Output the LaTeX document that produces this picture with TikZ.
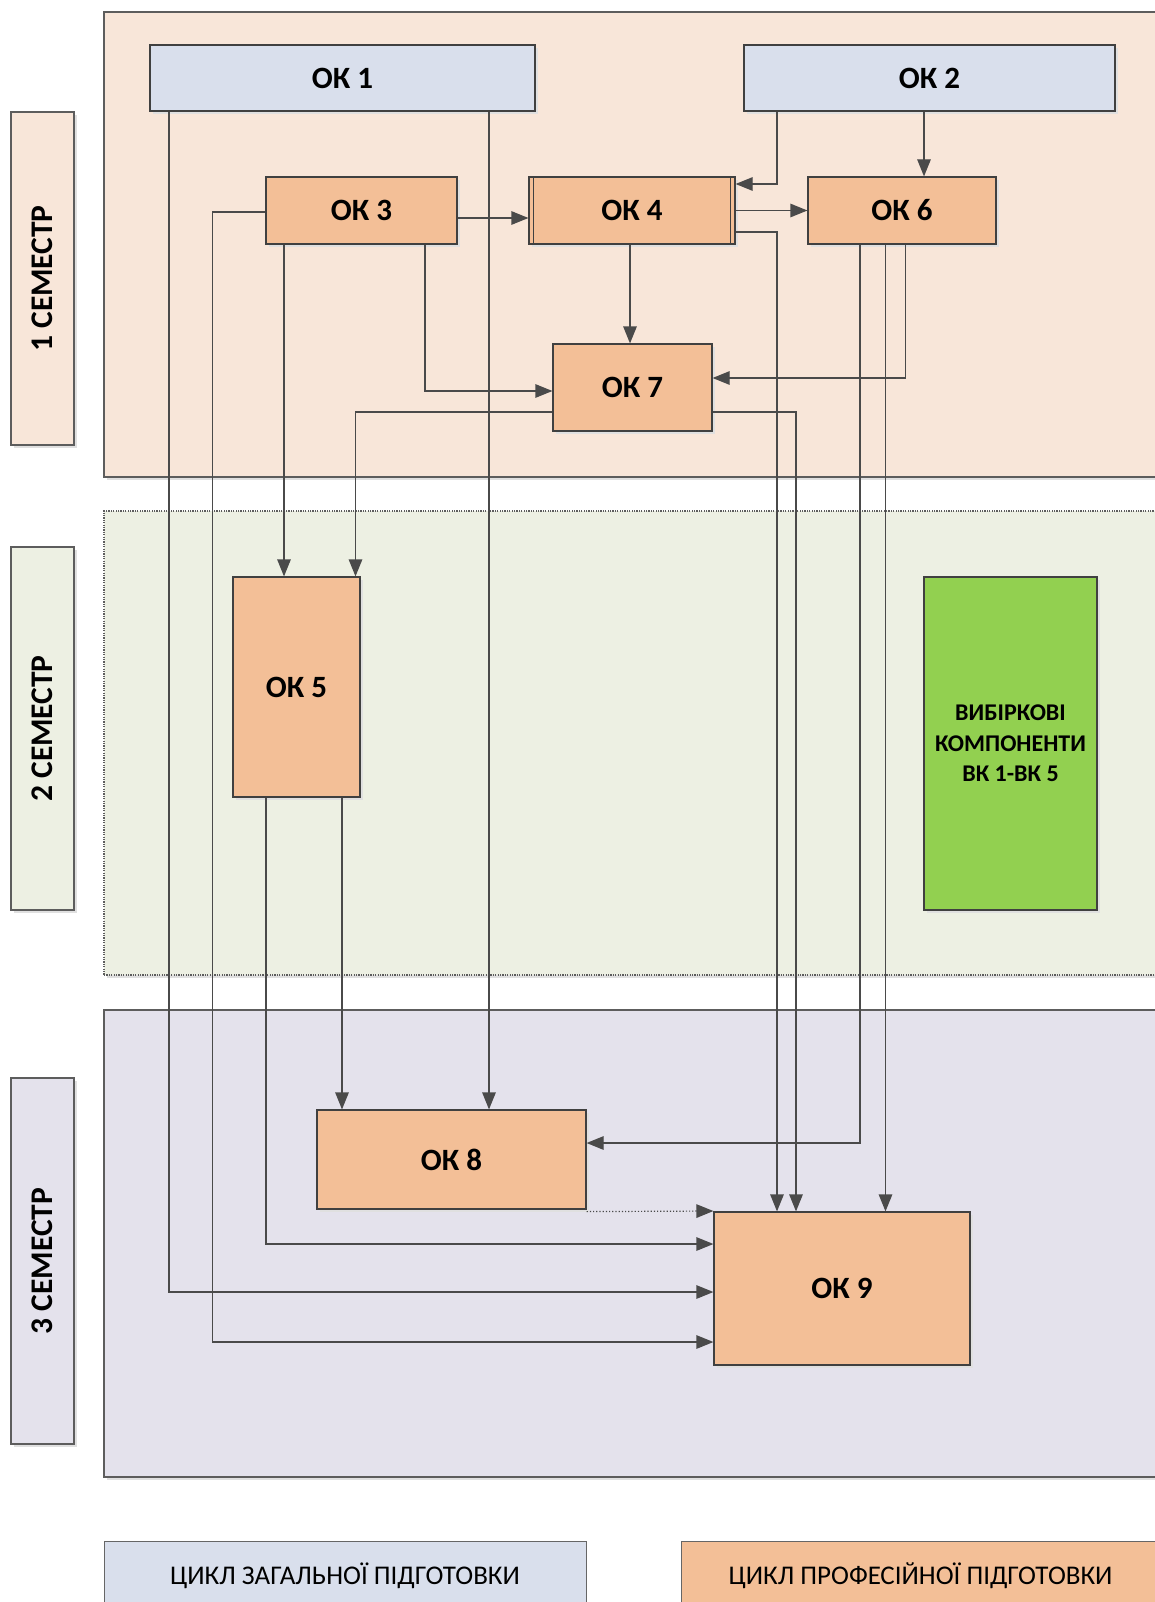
\documentclass[tikz,border=0pt]{standalone}
\usepackage{fontspec}
\setmainfont{Carlito}
\usetikzlibrary{arrows.meta,shadows}
\definecolor{semA}{HTML}{F8E6D9}
\definecolor{semB}{HTML}{EDF0E3}
\definecolor{semC}{HTML}{E4E2EC}
\definecolor{genblue}{HTML}{D9DFEC}
\definecolor{profor}{HTML}{F3BF97}
\definecolor{selgreen}{HTML}{92D050}
\definecolor{frame}{HTML}{404040}
\definecolor{linkgray}{HTML}{4A4A4A}
\begin{document}
\begin{tikzpicture}[x=1pt, y=-1pt, >={Triangle[length=17pt,width=13.5pt]},
      shd/.style={drop shadow={shadow xshift=3pt, shadow yshift=-3pt, fill=black!12, opacity=1}},
      box/.style={draw=frame, line width=1.2pt, align=center, inner sep=0pt, shd,
        font=\bfseries\fontsize{31}{37}\selectfont},
      gen/.style={box, fill=genblue},
      prof/.style={box, fill=profor},
      sel/.style={box, fill=selgreen, font=\bfseries\fontsize{24}{30.5}\selectfont},
      band/.style={draw=frame!85, line width=1.1pt, inner sep=0pt, shd},
      semlab/.style={band, label={[rotate=90, font=\bfseries\fontsize{31.5}{37}\selectfont]center:#1}},
      key/.style={draw=frame!80, line width=1pt, inner sep=0pt, font=\fontsize{27}{32}\selectfont},
      link/.style={->, draw=linkgray, line width=1.2pt}]
    \useasboundingbox (0,0) rectangle (1155,1602);
    \clip (0,0) rectangle (1155,1602);
    \node[band, fill=semA, minimum width=1056pt, minimum height=465pt] (sem1) at (632,244.5) {};
    \node[band, fill=semB, dash pattern=on 1.2pt off 1.2pt, minimum width=1056pt, minimum height=464pt] (sem2) at (632,743) {};
    \node[band, fill=semC, minimum width=1056pt, minimum height=467pt] (sem3) at (632,1243.5) {};
    \node[semlab={1 СЕМЕСТР}, fill=semA, minimum width=63pt, minimum height=333pt] (lab1) at (42.5,278.5) {};
    \node[semlab={2 СЕМЕСТР}, fill=semB, minimum width=63pt, minimum height=363pt] (lab2) at (42.5,728.5) {};
    \node[semlab={3 СЕМЕСТР}, fill=semC, minimum width=63pt, minimum height=366pt] (lab3) at (42.5,1261) {};
    \node[gen, minimum width=385pt, minimum height=66pt] (ok1) at (342.5,78) {ОК 1};
    \node[gen, minimum width=371pt, minimum height=66pt] (ok2) at (929.5,78) {ОК 2};
    \node[prof, minimum width=191pt, minimum height=67pt] (ok3) at (361.5,210.5) {ОК 3};
    \node[prof, minimum width=206pt, minimum height=67pt] (ok4) at (632,210.5) {ОК 4};
    \node[prof, minimum width=188pt, minimum height=67pt] (ok6) at (902,210.5) {ОК 6};
    \node[prof, minimum width=159pt, minimum height=87pt] (ok7) at (632.5,387.5) {ОК 7};
    \node[prof, minimum width=127pt, minimum height=220pt] (ok5) at (296.5,687) {ОК 5};
    \node[sel, minimum width=173pt, minimum height=333pt] (vk) at (1010.5,743.5) {ВИБІРКОВІ\\КОМПОНЕНТИ\\ВК 1-ВК 5};
    \node[prof, minimum width=269pt, minimum height=99pt] (ok8) at (451.5,1159.5) {ОК 8};
    \node[prof, minimum width=256pt, minimum height=153pt] (ok9) at (842,1288.5) {ОК 9};
    \node[key, fill=genblue, minimum width=482pt, minimum height=69pt] (leg1) at (345,1575.5) {ЦИКЛ ЗАГАЛЬНОЇ ПІДГОТОВКИ};
    \node[key, fill=profor, minimum width=479pt, minimum height=69pt] (leg2) at (920.5,1575.5) {ЦИКЛ ПРОФЕСІЙНОЇ ПІДГОТОВКИ};
    \draw[draw=frame, line width=1.2pt] ([xshift=5pt]ok4.north west) -- ([xshift=5pt]ok4.south west);
    \draw[draw=frame, line width=1.2pt] ([xshift=-5pt]ok4.north east) -- ([xshift=-5pt]ok4.south east);
    \draw[link] ([xshift=-173.5pt]ok1.south) |- ([yshift=-3.5pt]ok9.west);
    \draw[link] ([xshift=146.5pt]ok1.south) -- ([xshift=37.5pt]ok8.north);
    \draw[link] ([xshift=-152.5pt]ok2.south) |- ([yshift=26.5pt]ok4.east);
    \draw[link] ([xshift=-5.5pt]ok2.south) -- ([xshift=22pt]ok6.north);
    \draw[link] ([yshift=-7.5pt]ok3.east) -- ([yshift=-7.5pt]ok4.west);
    \draw[link] ([yshift=-1.5pt]ok3.west) -- ++(-53,0) |- ([yshift=-53.5pt]ok9.west);
    \draw[link] ([xshift=-77.5pt]ok3.south) -- ([xshift=-12.5pt]ok5.north);
    \draw[link] ([xshift=63.5pt]ok3.south) |- ([yshift=-3.5pt]ok7.west);
    \draw[link] (ok4.east) -- (ok6.west);
    \draw[link] ([yshift=-21.5pt]ok4.east) -| ([xshift=-65pt]ok9.north);
    \draw[link] ([xshift=-2pt]ok4.south) -- ([xshift=-2.5pt]ok7.north);
    \draw[link] ([xshift=-42pt]ok6.south) |- ([yshift=16.5pt]ok8.east);
    \draw[link] ([xshift=-16.5pt]ok6.south) -- ([xshift=43.5pt]ok9.north);
    \draw[link] ([xshift=3.5pt]ok6.south) |- ([yshift=9.5pt]ok7.east);
    \draw[link] ([yshift=-24.5pt]ok7.east) -| ([xshift=-46pt]ok9.north);
    \draw[link] ([yshift=-24.5pt]ok7.west) -| ([xshift=59pt]ok5.north);
    \draw[link] ([xshift=-30.5pt]ok5.south) |- ([yshift=44.5pt]ok9.west);
    \draw[link] ([xshift=45.5pt]ok5.south) -- ([xshift=-109.5pt]ok8.north);
    \draw[link, dotted] ([yshift=-2pt]ok8.south east) -- ([yshift=77.5pt]ok9.west);
  \end{tikzpicture}
\end{document}
